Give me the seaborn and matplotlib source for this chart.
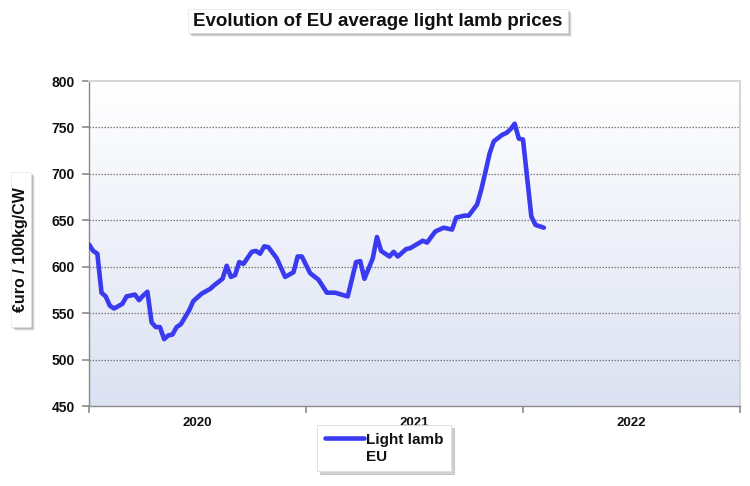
import numpy as np
import pandas as pd
import matplotlib
matplotlib.use("Agg")
import matplotlib.pyplot as plt
from matplotlib.lines import Line2D
from matplotlib.patches import Rectangle
from matplotlib.colors import LinearSegmentedColormap
from matplotlib import font_manager
import seaborn as sns

# ---- data (week index from start of axis, price €/100kg CW) ----
weeks = [0, 1, 2, 3, 4, 5, 6, 8, 9, 11, 12, 13, 14, 15, 16, 17, 18, 19, 20, 21,
         22, 24, 25, 27, 29, 30, 32, 33, 34, 35, 36, 37, 39, 40, 41, 42, 43, 45,
         47, 49, 50, 51, 53, 55, 57, 59, 62, 64, 65, 66, 68, 69, 70, 72, 73, 74,
         76, 77, 80, 81, 83, 85, 87, 88, 90, 91, 92, 93, 94, 95, 96, 97, 99, 100,
         101, 102, 103, 104, 106, 107, 109]
prices = [624, 617, 614, 572, 568, 558, 555, 560, 568, 570, 564, 569, 573, 540,
          535, 535, 522, 526, 527, 535, 538, 553, 563, 571, 576, 580, 587, 601,
          589, 591, 605, 603, 616, 617, 614, 622, 621, 609, 589, 594, 611, 611,
          593, 586, 572, 572, 568, 605, 606, 587, 609, 632, 617, 611, 616, 611,
          619, 620, 628, 626, 638, 642, 640, 653, 655, 655, 661, 667, 683, 702,
          722, 735, 742, 744, 748, 754, 738, 737, 654, 645, 642]
year_labels = ["2020", "2021", "2022"]
year_edges = [0, 52, 104, 156]
y_ticks = [450, 500, 550, 600, 650, 700, 750, 800]

df = pd.DataFrame({"week": weeks, "price": prices})

sns.set_theme(style="white")
avail = {f.name for f in font_manager.fontManager.ttflist}
narrow = "Liberation Sans Narrow" if "Liberation Sans Narrow" in avail else "Liberation Sans"
plt.rcParams["font.family"] = [narrow, "DejaVu Sans"]
plt.rcParams["font.weight"] = "bold"

W, H = 750, 486
fig = plt.figure(figsize=(W / 100, H / 100), dpi=100)
fig.patch.set_facecolor("white")

def fx(px):
    return px / W

def fy(py):
    return 1 - py / H

ax_l, ax_r, ax_t, ax_b = 89, 740, 81, 406
ax = fig.add_axes([fx(ax_l), fy(ax_b), fx(ax_r) - fx(ax_l), fy(ax_t) - fy(ax_b)])

# gradient background (white at top, light blue at bottom)
grad = np.linspace(0, 1, 256).reshape(-1, 1)
cmap = LinearSegmentedColormap.from_list("bg", ["#ffffff", "#dce2f2"])
ax.imshow(grad, extent=[0, 156, 450, 800], aspect="auto", cmap=cmap,
          origin="upper", zorder=0)

sns.lineplot(data=df, x="week", y="price", ax=ax, color="#3a3af0",
             linewidth=3.3, zorder=3, label="Light lamb", legend=False)

ax.set_xlim(0, 156)
ax.set_ylim(450, 800)
ax.set_yticks(y_ticks)
ax.set_yticklabels([str(v) for v in y_ticks])
ax.set_xticks(year_edges)
ax.set_xticklabels([])
ax.set_xticks([26, 78, 130], minor=True)
ax.set_xticklabels(year_labels, minor=True)
ax.tick_params(axis="x", which="minor", length=0, pad=8, labelsize=9.5)
ax.tick_params(axis="x", which="major", length=5, color="#909090", direction="out",
               bottom=True)
ax.tick_params(axis="y", length=5, color="#909090", direction="out", left=True,
               labelsize=10, pad=5)
for lab in ax.get_yticklabels() + ax.get_xticklabels(minor=True):
    lab.set_fontweight("bold")
    lab.set_color("#111111")

for v in y_ticks[1:-1]:
    ax.axhline(v, color="#7a7a7a", linestyle=(0, (1.2, 1.2)), linewidth=0.9, zorder=1)

for s in ["top", "right"]:
    ax.spines[s].set_color("#d6d6d6")
    ax.spines[s].set_linewidth(1.5)
for s in ["left", "bottom"]:
    ax.spines[s].set_color("#8a8a8a")
    ax.spines[s].set_linewidth(1.0)
ax.set_xlabel("")
ax.set_ylabel("")

def shadow_box(x0, y0, x1, y1, off=4):
    for i, a in enumerate([0.06, 0.10, 0.14, 0.18]):
        d = off - i
        fig.patches.append(Rectangle((fx(x0 + d), fy(y1 + d)),
                                     fx(x1 - x0), fy(y0) - fy(y1),
                                     transform=fig.transFigure, facecolor="black",
                                     edgecolor="none", alpha=a, zorder=1))
    fig.patches.append(Rectangle((fx(x0), fy(y1)), fx(x1 - x0), fy(y0) - fy(y1),
                                 transform=fig.transFigure, facecolor="white",
                                 edgecolor="#e6e6e6", linewidth=0.5, zorder=2))

# title
shadow_box(188, 9, 568, 33)
fig.text(fx(378), fy(21), "Evolution of EU average light lamb prices",
         ha="center", va="center", fontsize=13.5, fontweight="bold",
         color="#111111", zorder=5)

# y label
shadow_box(11, 172, 31, 327)
fig.text(fx(21), fy(250), "€uro / 100kg/CW", rotation=90, ha="center",
         va="center", fontsize=11.5, fontweight="bold", color="#111111", zorder=5)

# legend
handles = [Line2D([], [], color="#3a3af0", linewidth=3.3),
           Line2D([], [], color="none")]
leg = fig.legend(handles, ["Light lamb", "EU"], loc="upper left",
                 bbox_to_anchor=(fx(317), fy(425)), frameon=True, fancybox=False,
                 shadow={"color": "black", "alpha": 0.18}, handlelength=2.6,
                 handletextpad=0.1, labelspacing=0.2, borderpad=0.5,
                 borderaxespad=0, prop={"weight": "bold", "size": 11})
leg.get_frame().set_edgecolor("#dddddd")
leg.get_frame().set_linewidth(0.6)
for t in leg.get_texts():
    t.set_color("#111111")

fig.savefig("out.png", dpi=100, facecolor="white")
